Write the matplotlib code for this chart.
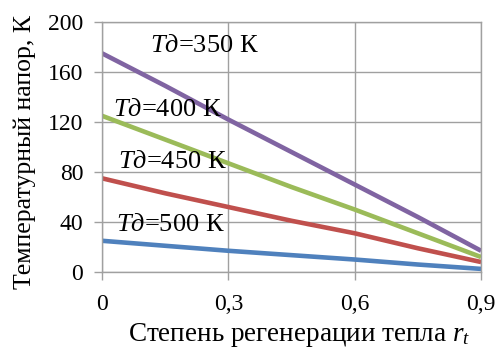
import matplotlib
matplotlib.use("Agg")
import matplotlib.pyplot as plt

# Data
r_t = [0.0, 0.15, 0.3, 0.45, 0.6, 0.75, 0.9]
dt_350 = [175, 149, 122, 96, 70, 44, 17]
dt_400 = [125, 106, 87, 68, 50, 31, 12]
dt_450 = [75, 63, 52, 41, 31, 19, 8]
dt_500 = [25, 21, 17, 13.5, 10, 6, 2.5]

xticks = [0, 0.3, 0.6, 0.9]
xtick_labels = ["0", "0,3", "0,6", "0,9"]
yticks = [0, 40, 80, 120, 160, 200]

plt.rcParams["font.family"] = ["Liberation Serif", "DejaVu Serif"]
plt.rcParams["mathtext.fontset"] = "custom"
plt.rcParams["mathtext.rm"] = "Liberation Serif"
plt.rcParams["mathtext.it"] = "Liberation Serif:italic"

fig = plt.figure(figsize=(4.98, 3.51), dpi=100)
ax = fig.add_axes([0.205, 0.225, 0.761, 0.712])

grid_col = "#a0a0a0"
ax.plot(r_t, dt_500, color="#4F81BD", lw=3.3, solid_capstyle="butt")
ax.plot(r_t, dt_450, color="#C0504D", lw=3.3, solid_capstyle="butt")
ax.plot(r_t, dt_400, color="#9BBB59", lw=3.3, solid_capstyle="butt")
ax.plot(r_t, dt_350, color="#8064A2", lw=3.3, solid_capstyle="butt")

ax.set_xlim(0, 0.9)
ax.set_ylim(0, 200)
ax.set_xticks(xticks)
ax.set_xticklabels(xtick_labels)
ax.set_yticks(yticks)
ax.grid(True, color=grid_col, lw=1)
ax.set_axisbelow(True)
for s in ax.spines.values():
    s.set_color(grid_col)
    s.set_linewidth(1)
ax.tick_params(axis="both", colors=grid_col, labelcolor="black", labelsize=17, length=5.5, width=1)
ax.tick_params(axis="x", pad=10)
ax.tick_params(axis="y", pad=8)

# Curve labels
lab_kw = dict(fontsize=19, va="center", ha="left")
ax.text(0.113, 181, r"$\mathit{Tд}$=350 К", **lab_kw)
ax.text(0.025, 130, r"$\mathit{Tд}$=400 К", **lab_kw)
ax.text(0.037, 88, r"$\mathit{Tд}$=450 К", **lab_kw)
ax.text(0.032, 38, r"$\mathit{Tд}$=500 К", **lab_kw)

ax.set_xlabel(r"Степень регенерации тепла $r_t$", fontsize=19.5)
ax.xaxis.set_label_coords(0.52, -0.252)
ax.xaxis.label.set_va("center")
ax.set_ylabel("Температурный напор, К", fontsize=18.5)
ax.yaxis.set_label_coords(-0.203, 0.48)
ax.yaxis.label.set_va("center")

fig.savefig("out.png", dpi=100)
